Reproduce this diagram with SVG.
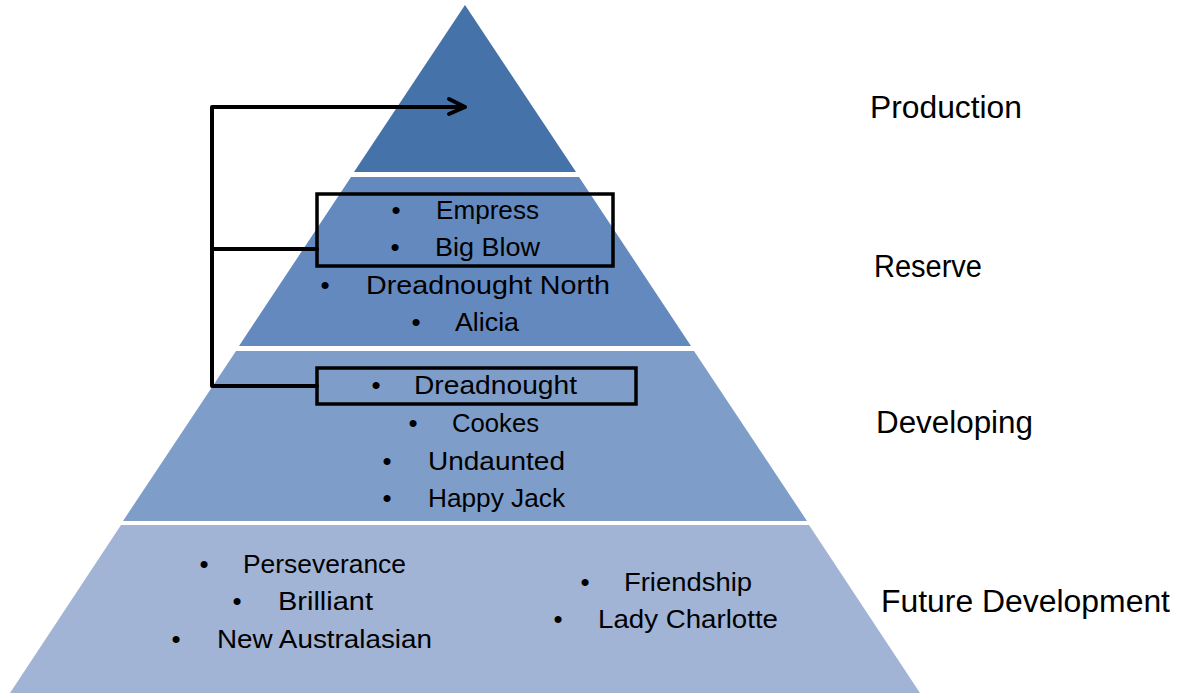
<svg xmlns="http://www.w3.org/2000/svg" width="1179" height="693" viewBox="0 0 1179 693">
<style>
.t{font-family:"Liberation Sans",Arial,sans-serif;font-size:26px;fill:#000}
.b{font-family:"Liberation Sans",Arial,sans-serif;font-size:26px;fill:#000;text-anchor:middle}
.lbl{font-family:"Liberation Sans",Arial,sans-serif;font-size:31px;fill:#000}
.box{fill:none;stroke:#000;stroke-width:3.5}
.con{fill:none;stroke:#000;stroke-width:4;stroke-linejoin:round;stroke-linecap:round}
</style>
<rect width="1179" height="693" fill="#fff"/>
<g id="production">
<polygon points="465,5 576,172 354,172" fill="#4672AA"/>
</g>
<g id="reserve">
<polygon points="351,177 579,177 691,346 239,346" fill="#6389BE"/>
<text class="b" x="396" y="219">•</text><text class="t" x="436" y="219" textLength="103" lengthAdjust="spacingAndGlyphs">Empress</text>
<text class="b" x="395" y="256">•</text><text class="t" x="435" y="256" textLength="105" lengthAdjust="spacingAndGlyphs">Big Blow</text>
<text class="b" x="325" y="294">•</text><text class="t" x="366" y="294" textLength="244" lengthAdjust="spacingAndGlyphs">Dreadnought North</text>
<text class="b" x="416" y="331">•</text><text class="t" x="455" y="331" textLength="64" lengthAdjust="spacingAndGlyphs">Alicia</text>
</g>
<g id="developing">
<polygon points="236,351 694,351 807,521 123,521" fill="#7E9DC9"/>
<text class="b" x="376" y="394">•</text><text class="t" x="414" y="394" textLength="163" lengthAdjust="spacingAndGlyphs">Dreadnought</text>
<text class="b" x="413" y="432">•</text><text class="t" x="452" y="432" textLength="87" lengthAdjust="spacingAndGlyphs">Cookes</text>
<text class="b" x="387" y="470">•</text><text class="t" x="428" y="470" textLength="137" lengthAdjust="spacingAndGlyphs">Undaunted</text>
<text class="b" x="387" y="507">•</text><text class="t" x="428" y="507" textLength="137" lengthAdjust="spacingAndGlyphs">Happy Jack</text>
</g>
<g id="future">
<polygon points="121,525 809,525 920,693 10,693" fill="#A1B4D6"/>
<text class="b" x="204" y="573">•</text><text class="t" x="243" y="573" textLength="163" lengthAdjust="spacingAndGlyphs">Perseverance</text>
<text class="b" x="237" y="610">•</text><text class="t" x="278" y="610" textLength="95" lengthAdjust="spacingAndGlyphs">Brilliant</text>
<text class="b" x="176" y="648">•</text><text class="t" x="217" y="648" textLength="215" lengthAdjust="spacingAndGlyphs">New Australasian</text>
<text class="b" x="585" y="591">•</text><text class="t" x="624" y="591" textLength="128" lengthAdjust="spacingAndGlyphs">Friendship</text>
<text class="b" x="558" y="628">•</text><text class="t" x="598" y="628" textLength="180" lengthAdjust="spacingAndGlyphs">Lady Charlotte</text>
</g>
<g id="labels">
<text class="lbl" x="870" y="118" textLength="152" lengthAdjust="spacingAndGlyphs">Production</text>
<text class="lbl" x="874" y="277" textLength="108" lengthAdjust="spacingAndGlyphs">Reserve</text>
<text class="lbl" x="876" y="433" textLength="157" lengthAdjust="spacingAndGlyphs">Developing</text>
<text class="lbl" x="881" y="612" textLength="289" lengthAdjust="spacingAndGlyphs">Future Development</text>
</g>
<g id="box-reserve">
<rect class="box" x="317" y="194" width="296" height="72"/>
</g>
<g id="box-developing">
<rect class="box" x="317" y="368" width="319" height="36"/>
</g>
<g id="connectors">
<path class="con" d="M317,386 H212 V107 H464"/>
<path class="con" d="M212,249 H317"/>
<path class="con" d="M449,99 L465,107 L449,114"/>
</g>
</svg>
